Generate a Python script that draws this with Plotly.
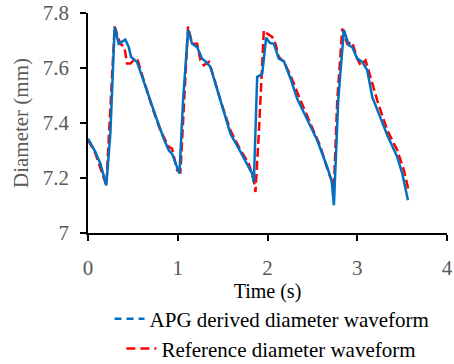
import plotly.graph_objects as go

# APG derived diameter waveform (blue)
apg_t = [0.0, 0.082, 0.138, 0.175, 0.204, 0.249, 0.297, 0.342, 0.416, 0.454, 0.480, 0.546,
         0.621, 0.695, 0.770, 0.844, 0.900, 0.937, 0.974, 1.019, 1.059, 1.115, 1.160, 1.216,
         1.271, 1.309, 1.364, 1.439, 1.513, 1.587, 1.680, 1.773, 1.829, 1.848, 1.885, 1.914,
         1.941, 1.985, 2.026, 2.071, 2.126, 2.182, 2.257, 2.331, 2.442, 2.554, 2.665, 2.714,
         2.740, 2.788, 2.851, 2.907, 2.944, 3.000, 3.056, 3.111, 3.167, 3.223, 3.335, 3.446,
         3.502, 3.565]
apg_d = [7.343, 7.295, 7.252, 7.210, 7.173, 7.361, 7.749, 7.688, 7.703, 7.676, 7.640, 7.622,
         7.549, 7.482, 7.410, 7.343, 7.301, 7.288, 7.252, 7.216, 7.482, 7.739, 7.688, 7.676,
         7.634, 7.624, 7.604, 7.519, 7.440, 7.361, 7.307, 7.252, 7.216, 7.185, 7.567, 7.573,
         7.579, 7.710, 7.691, 7.688, 7.634, 7.625, 7.561, 7.488, 7.410, 7.337, 7.240, 7.191,
         7.101, 7.482, 7.739, 7.682, 7.676, 7.634, 7.622, 7.592, 7.495, 7.446, 7.355, 7.276,
         7.216, 7.119]

# Reference diameter waveform (red)
ref_t = [0.0, 0.082, 0.204, 0.297, 0.360, 0.405, 0.435, 0.472, 0.509, 0.554, 0.621, 0.714,
         0.807, 0.900, 0.937, 0.993, 1.030, 1.115, 1.160, 1.216, 1.253, 1.290, 1.346, 1.401,
         1.476, 1.587, 1.680, 1.792, 1.848, 1.866, 1.903, 1.959, 1.996, 2.052, 2.089, 2.126,
         2.182, 2.257, 2.368, 2.480, 2.591, 2.684, 2.721, 2.740, 2.777, 2.833, 2.889, 2.944,
         3.000, 3.037, 3.093, 3.149, 3.223, 3.335, 3.446, 3.520, 3.576]
ref_d = [7.338, 7.290, 7.173, 7.751, 7.688, 7.676, 7.616, 7.616, 7.628, 7.628, 7.555, 7.458,
         7.373, 7.313, 7.307, 7.228, 7.222, 7.751, 7.688, 7.688, 7.628, 7.610, 7.622, 7.567,
         7.482, 7.373, 7.313, 7.252, 7.191, 7.149, 7.361, 7.737, 7.725, 7.713, 7.688, 7.640,
         7.622, 7.573, 7.482, 7.398, 7.313, 7.216, 7.185, 7.170, 7.482, 7.743, 7.688, 7.694,
         7.634, 7.610, 7.628, 7.567, 7.482, 7.373, 7.301, 7.228, 7.149]

x_ticks = [0, 1, 2, 3, 4]
y_ticks = [7.0, 7.2, 7.4, 7.6, 7.8]
y_tick_labels = ["7", "7.2", "7.4", "7.6", "7.8"]

BLUE = "#0070C0"
RED = "#FF0000"
FONT = "Liberation Serif"
GRAY = "#595959"

fig = go.Figure()
fig.add_trace(go.Scatter(x=ref_t, y=ref_d, mode="lines", showlegend=False,
                         line=dict(color=RED, width=2.5, dash="9px,4px")))
fig.add_trace(go.Scatter(x=apg_t, y=apg_d, mode="lines", showlegend=False,
                         line=dict(color=BLUE, width=2.5)))
# legend entries
fig.add_trace(go.Scatter(x=[None], y=[None], mode="lines", name="APG derived diameter waveform",
                         legend="legend",
                         line=dict(color=BLUE, width=2.5, dash="7px,5px")))
fig.add_trace(go.Scatter(x=[None], y=[None], mode="lines", name="Reference diameter waveform",
                         legend="legend2",
                         line=dict(color=RED, width=2.5, dash="9px,5px,9px,5px,2px,10px")))

axis_common = dict(showgrid=False, zeroline=False, showline=True, linecolor="#000000", linewidth=1.5,
                   ticks="outside", ticklen=6, tickwidth=1.5, tickcolor="#000000",
                   automargin=False, ticklabeloverflow="allow",
                   tickfont=dict(family=FONT, size=21, color=GRAY))

fig.update_layout(
    width=454, height=364,
    margin=dict(l=88, r=7, t=13, b=131, autoexpand=False),
    paper_bgcolor="white", plot_bgcolor="white",
    font=dict(family=FONT, size=21, color="#000000"),
    xaxis=dict(range=[0, 4], tickvals=x_ticks, ticktext=[str(v) for v in x_ticks],
               ticklabelstandoff=9,
               title=dict(text="Time (s)", font=dict(family=FONT, size=20, color="#000000"), standoff=5),
               **axis_common),
    yaxis=dict(range=[7.0, 7.8], tickvals=y_ticks, ticktext=y_tick_labels,
               ticklabelstandoff=7,
               title=dict(text="Diameter (mm)", font=dict(family=FONT, size=21, color=GRAY), standoff=8),
               **axis_common),
    legend=dict(x=0.06, y=-0.391, xanchor="left", yanchor="middle", bgcolor="rgba(0,0,0,0)",
                font=dict(family=FONT, size=21, color="#000000")),
    legend2=dict(x=0.093, y=-0.527, xanchor="left", yanchor="middle", bgcolor="rgba(0,0,0,0)",
                 font=dict(family=FONT, size=21, color="#000000")),
)

fig.write_html(
    "out.html",
    config={"displayModeBar": False},
    post_script="document.documentElement.style.margin='0';document.body.style.margin='0';"
                "document.documentElement.style.overflow='hidden';document.body.style.overflow='hidden';",
)
